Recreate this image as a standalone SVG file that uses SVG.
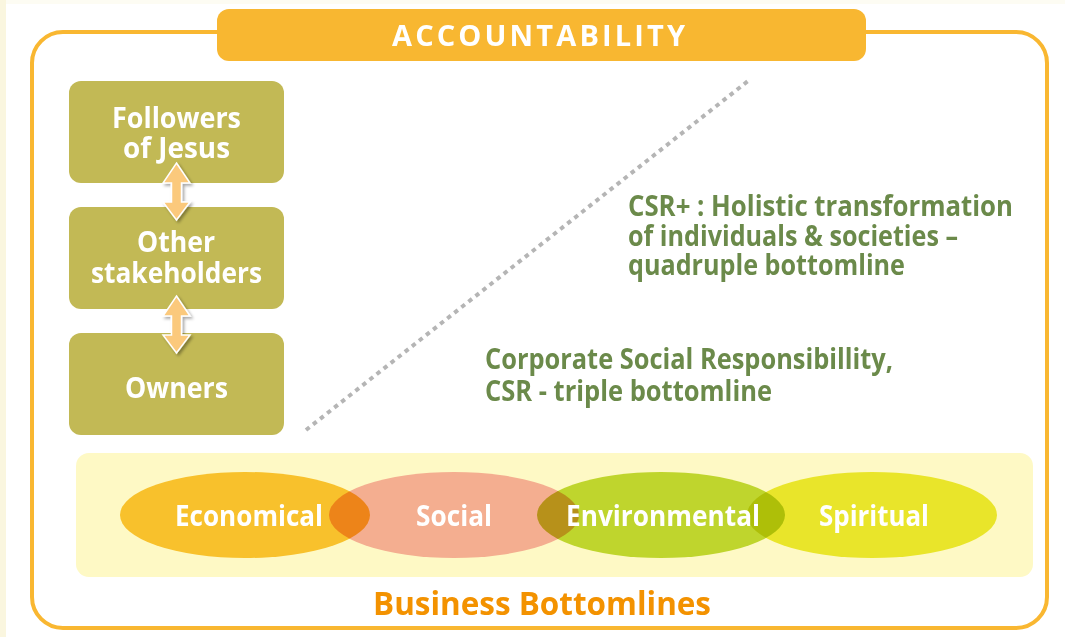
<svg xmlns="http://www.w3.org/2000/svg" width="1065" height="637" viewBox="0 0 1065 637">
  <style>
    .t { font-family: "Open Sans", "Noto Sans", "Liberation Sans", sans-serif; font-weight: 700; }
    .white { fill: #ffffff; }
    .green { fill: #6b8a4a; }
    .box { fill: #c2b955; }
    .lens { mix-blend-mode: multiply; }
    .dbl { fill: #fbc97b; stroke: #ffffff; stroke-width: 1.5; stroke-linejoin: miter; }
  </style>
  <defs>
    <filter id="shadow" x="-50%" y="-20%" width="200%" height="140%">
      <feDropShadow dx="2" dy="2" stdDeviation="1.5" flood-color="#000000" flood-opacity="0.35"/>
    </filter>
  </defs>

  <!-- page background -->
  <rect x="0" y="0" width="1065" height="637" fill="#ffffff"/>
  <rect x="0" y="0" width="1065" height="4" fill="#fdfcf3"/>
  <rect x="0" y="0" width="6" height="637" fill="#faf6df"/>

  <!-- outer accountability frame -->
  <g id="frame">
    <rect x="32" y="32" width="1015" height="596" rx="31" ry="31" fill="none" stroke="#f9b731" stroke-width="4"/>
    <rect x="217" y="9" width="649" height="52" rx="12" ry="12" fill="#f8b731"/>
    <text class="t white" x="392" y="46" font-size="29" textLength="293" lengthAdjust="spacing">ACCOUNTABILITY</text>
  </g>

  <!-- stakeholder boxes -->
  <g id="followers">
    <rect class="box" x="69" y="81" width="215" height="102" rx="12" ry="12"/>
    <text class="t white" x="112" y="128" font-size="28" textLength="129" lengthAdjust="spacingAndGlyphs">Followers</text>
    <text class="t white" x="123" y="158" font-size="28" textLength="107" lengthAdjust="spacingAndGlyphs">of Jesus</text>
  </g>
  <g id="stakeholders">
    <rect class="box" x="69" y="207" width="215" height="102" rx="12" ry="12"/>
    <text class="t white" x="137" y="252" font-size="28" textLength="78" lengthAdjust="spacingAndGlyphs">Other</text>
    <text class="t white" x="91" y="283" font-size="28" textLength="171" lengthAdjust="spacingAndGlyphs">stakeholders</text>
  </g>
  <g id="owners">
    <rect class="box" x="69" y="333" width="215" height="102" rx="12" ry="12"/>
    <text class="t white" x="125" y="398" font-size="28" textLength="103" lengthAdjust="spacingAndGlyphs">Owners</text>
  </g>

  <!-- double-headed arrows between boxes -->
  <g id="connectors" filter="url(#shadow)">
    <polygon class="dbl" points="176.5,163 190,183 181.5,183 181.5,202 190,202 176.5,220 163,202 171.5,202 171.5,183 163,183"/>
    <polygon class="dbl" points="176.5,296 190,316 181.5,316 181.5,335 190,335 176.5,353 163,335 171.5,335 171.5,316 163,316"/>
  </g>

  <!-- dotted divider -->
  <line x1="306" y1="430" x2="748" y2="81" stroke="#b5b5b5" stroke-width="4" stroke-dasharray="4.5 4.5"/>

  <!-- CSR labels -->
  <g id="csr-plus">
    <text class="t green" x="628" y="216" font-size="28" textLength="385" lengthAdjust="spacingAndGlyphs">CSR+ : Holistic transformation</text>
    <text class="t green" x="628" y="246" font-size="28" textLength="330" lengthAdjust="spacingAndGlyphs">of individuals &amp; societies –</text>
    <text class="t green" x="628" y="275" font-size="28" textLength="277" lengthAdjust="spacingAndGlyphs">quadruple bottomline</text>
  </g>
  <g id="csr">
    <text class="t green" x="485" y="369" font-size="28" textLength="408" lengthAdjust="spacingAndGlyphs">Corporate Social Responsibillity,</text>
    <text class="t green" x="485" y="401" font-size="28" textLength="287" lengthAdjust="spacingAndGlyphs">CSR - triple bottomline</text>
  </g>

  <!-- business bottomlines band -->
  <g id="bottomlines">
    <rect x="76" y="453" width="957" height="124" rx="13" ry="13" fill="#fef9c5"/>
    <g style="isolation:isolate">
      <ellipse class="lens" cx="245" cy="515" rx="125" ry="43" fill="#f8c12c"/>
      <ellipse class="lens" cx="454" cy="515" rx="125" ry="43" fill="#f4ae90"/>
      <ellipse class="lens" cx="661" cy="515" rx="124" ry="43" fill="#bfd52d"/>
      <ellipse class="lens" cx="872" cy="515" rx="125" ry="43" fill="#e9e52a"/>
    </g>
    <text class="t white" x="175" y="526" font-size="28" textLength="148" lengthAdjust="spacingAndGlyphs">Economical</text>
    <text class="t white" x="416" y="526" font-size="28" textLength="76" lengthAdjust="spacingAndGlyphs">Social</text>
    <text class="t white" x="566" y="526" font-size="28" textLength="194" lengthAdjust="spacingAndGlyphs">Environmental</text>
    <text class="t white" x="819" y="526" font-size="28" textLength="110" lengthAdjust="spacingAndGlyphs">Spiritual</text>
    <text class="t" x="373" y="615" font-size="32" fill="#f39200" textLength="338" lengthAdjust="spacingAndGlyphs">Business Bottomlines</text>
  </g>
</svg>
